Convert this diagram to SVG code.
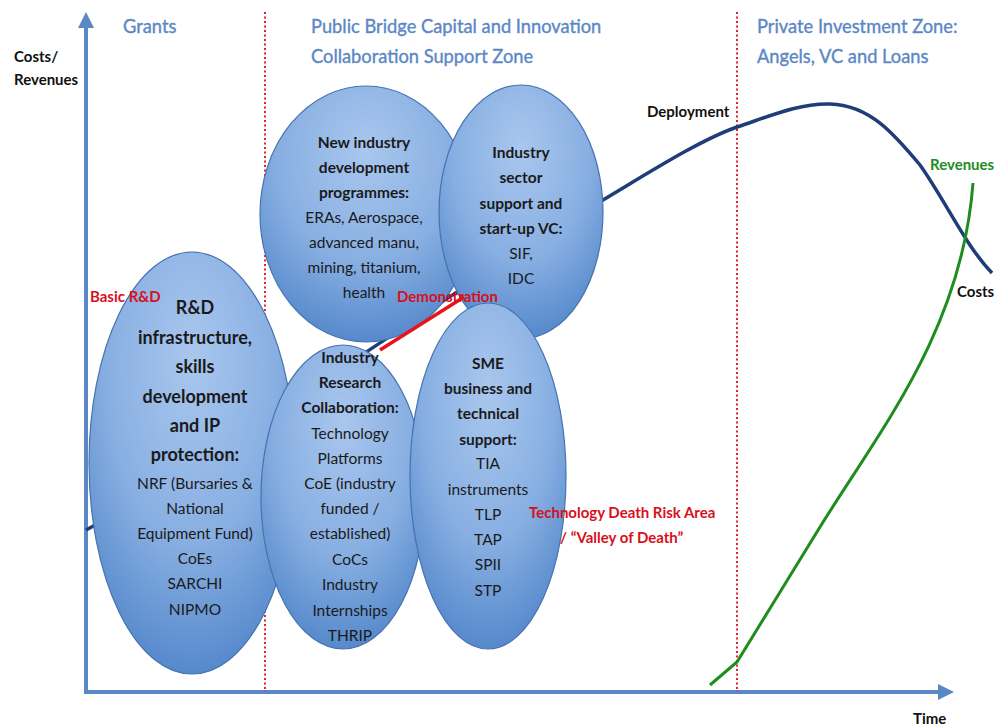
<svg xmlns="http://www.w3.org/2000/svg" width="997" height="727" viewBox="0 0 997 727">
<style>
text{font-family:Lato,"Liberation Sans",sans-serif;}
.hd{font-size:18.3px;fill:#5b87c5;stroke:#5b87c5;stroke-width:0.35;}
.ax{font-size:15px;font-weight:bold;fill:#111;}
.red{font-size:15px;font-weight:bold;fill:#d8101c;}
.t{font-size:15.5px;fill:#1a1a1a;text-anchor:middle;}
.b{font-weight:bold;}
.bb{font-size:18px;font-weight:bold;}
.ell{fill:url(#g);stroke:#4673b0;stroke-width:1.2;}
.dot{stroke:#e3212b;stroke-width:2;stroke-dasharray:2 2.5;fill:none;}
</style>
<defs>
<radialGradient id="g" cx="0.5" cy="0.3" r="0.75" fx="0.5" fy="0.25">
<stop offset="0" stop-color="#a9c7ee"/>
<stop offset="0.55" stop-color="#88afe2"/>
<stop offset="1" stop-color="#4e83c8"/>
</radialGradient>
</defs>
<rect width="997" height="727" fill="#fff"/>

<g id="axes">
<line x1="86" y1="692" x2="86" y2="24" stroke="#5b87c5" stroke-width="4"/>
<path d="M78,28 L86,12 L94,28 z" fill="#5b87c5"/>
<line x1="84" y1="692" x2="940" y2="692" stroke="#5b87c5" stroke-width="4"/>
<path d="M938,684 L954,692 L938,700 z" fill="#5b87c5"/>
</g>

<g id="zones">
<line class="dot" x1="265" y1="12" x2="265" y2="692"/>
<line class="dot" x1="737" y1="12" x2="737" y2="692"/>
</g>

<g id="labels">
<text class="hd" x="123" y="33">Grants</text>
<text class="hd" x="311" y="33">Public Bridge Capital and Innovation</text>
<text class="hd" x="311" y="63">Collaboration Support Zone</text>
<text class="hd" x="757" y="33">Private Investment Zone:</text>
<text class="hd" x="757" y="63">Angels, VC and Loans</text>
<text class="ax" x="14" y="62">Costs/</text>
<text class="ax" x="14" y="85">Revenues</text>
<text class="ax" x="913" y="724">Time</text>
</g>

<g id="connectors">
<path id="costs" d="M86,530 C200,470 450,290 603,200 C650,172 700,140 737,127 C770,116 800,103 830,104 C870,105 895,135 920,165 C945,200 965,245 992,273" fill="none" stroke="#1f3d78" stroke-width="3.5"/>
<path id="revenues" d="M710,685 L737,662 L820,527 C880,430 962,330 973,183" fill="none" stroke="#1e8c1e" stroke-width="3"/>
</g>

<g id="node-rd">
<ellipse class="ell" cx="192" cy="463" rx="103" ry="211"/>
<text class="t bb" x="195" y="314">R&amp;D</text>
<text class="t bb" x="195" y="344">infrastructure,</text>
<text class="t bb" x="195" y="373">skills</text>
<text class="t bb" x="195" y="403">development</text>
<text class="t bb" x="195" y="432">and IP</text>
<text class="t bb" x="195" y="461">protection:</text>
<text class="t" x="195" y="489">NRF (Bursaries &amp;</text>
<text class="t" x="195" y="514">National</text>
<text class="t" x="195" y="539">Equipment Fund)</text>
<text class="t" x="195" y="564">CoEs</text>
<text class="t" x="195" y="589">SARCHI</text>
<text class="t" x="195" y="615">NIPMO</text>
</g>

<g id="node-new-industry">
<ellipse class="ell" cx="366" cy="214" rx="106" ry="128"/>
<text class="t b" x="364" y="148">New industry</text>
<text class="t b" x="364" y="173">development</text>
<text class="t b" x="364" y="198">programmes:</text>
<text class="t" x="364" y="223">ERAs, Aerospace,</text>
<text class="t" x="364" y="248">advanced manu,</text>
<text class="t" x="364" y="273">mining, titanium,</text>
<text class="t" x="364" y="298">health</text>
</g>

<g id="node-sector">
<ellipse class="ell" cx="521" cy="212" rx="82" ry="127"/>
<text class="t b" x="521" y="158">Industry</text>
<text class="t b" x="521" y="183">sector</text>
<text class="t b" x="521" y="209">support and</text>
<text class="t b" x="521" y="234">start-up VC:</text>
<text class="t" x="521" y="259">SIF,</text>
<text class="t" x="521" y="284">IDC</text>
</g>

<g id="demonstration">
<line x1="380" y1="350" x2="464" y2="297" stroke="#e8141c" stroke-width="3.5"/>
<text class="red" x="397" y="302">Demonstration</text>
</g>

<g id="node-irc">
<ellipse class="ell" cx="343" cy="497" rx="82" ry="152"/>
<text class="t b" x="350" y="363">Industry</text>
<text class="t b" x="350" y="388">Research</text>
<text class="t b" x="350" y="413">Collaboration:</text>
<text class="t" x="350" y="439">Technology</text>
<text class="t" x="350" y="464">Platforms</text>
<text class="t" x="350" y="489">CoE (industry</text>
<text class="t" x="350" y="514">funded /</text>
<text class="t" x="350" y="539">established)</text>
<text class="t" x="350" y="565">CoCs</text>
<text class="t" x="350" y="590">Industry</text>
<text class="t" x="350" y="616">Internships</text>
<text class="t" x="350" y="641">THRIP</text>
</g>

<g id="node-sme">
<ellipse class="ell" cx="488" cy="476" rx="78" ry="173"/>
<text class="t b" x="488" y="369">SME</text>
<text class="t b" x="488" y="394">business and</text>
<text class="t b" x="488" y="419">technical</text>
<text class="t b" x="488" y="445">support:</text>
<text class="t" x="488" y="469">TIA</text>
<text class="t" x="488" y="495">instruments</text>
<text class="t" x="488" y="520">TLP</text>
<text class="t" x="488" y="545">TAP</text>
<text class="t" x="488" y="570">SPII</text>
<text class="t" x="488" y="596">STP</text>
</g>

<g id="annotations">
<text class="red" x="90" y="302">Basic R&amp;D</text>
<text class="red" x="529" y="518">Technology Death Risk Area</text>
<text class="red" x="560" y="543">/ “Valley of Death”</text>
<text class="ax" x="647" y="117">Deployment</text>
<text style="font-size:15px;font-weight:bold;fill:#1e8c1e" x="930" y="170">Revenues</text>
<text class="ax" x="957" y="297">Costs</text>
</g>
</svg>
